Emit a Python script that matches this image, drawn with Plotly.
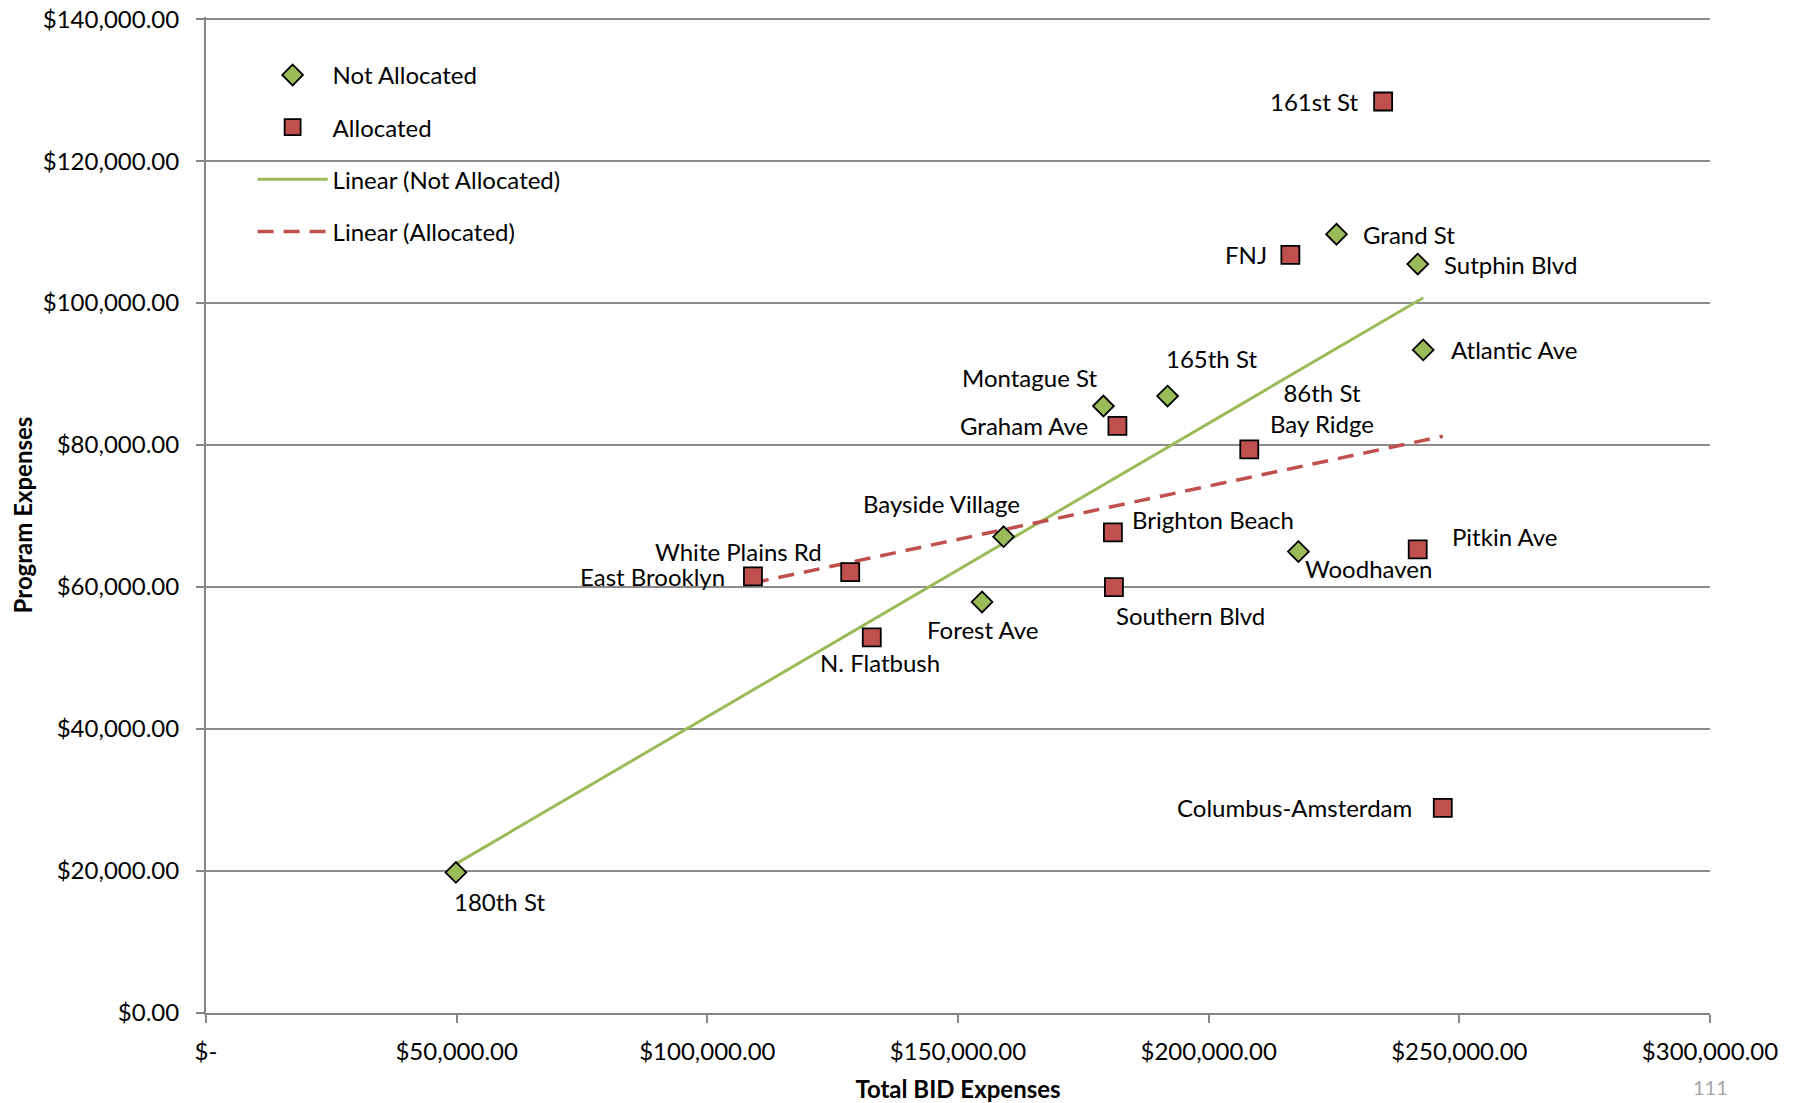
import numpy as np
import plotly.graph_objects as go

# ---- data ----
na_names = ["180th St", "Bayside Village", "Forest Ave", "Montague St", "165th St",
            "Grand St", "Sutphin Blvd", "Atlantic Ave", "Woodhaven"]
na_x = [49850, 159100, 154800, 179000, 191800, 225500, 241700, 242800, 217900]
na_y = [19800, 67100, 57900, 85500, 86900, 109700, 105500, 93400, 65000]

al_names = ["161st St", "FNJ", "Graham Ave", "86th St<br>Bay Ridge", "Brighton Beach",
            "Southern Blvd", "Pitkin Ave", "Columbus-Amsterdam", "East Brooklyn",
            "White Plains Rd", "N. Flatbush"]
al_x = [234800, 216300, 181800, 208100, 180900, 181100, 241700, 246700, 109100, 128500, 132800]
al_y = [128400, 106800, 82700, 79400, 67700, 60000, 65300, 28900, 61500, 62100, 52900]

x_tickvals = [0, 50000, 100000, 150000, 200000, 250000, 300000]
x_ticktext = ["$-", "$50,000.00", "$100,000.00", "$150,000.00", "$200,000.00",
              "$250,000.00", "$300,000.00"]
y_tickvals = [0, 20000, 40000, 60000, 80000, 100000, 120000, 140000]
y_ticktext = ["$0.00", "$20,000.00", "$40,000.00", "$60,000.00", "$80,000.00",
              "$100,000.00", "$120,000.00", "$140,000.00"]

# label offsets in px (dx right, dy up) -- placement only
na_offsets = [(44, -29), (-62, 33), (0, -28), (-74, 29), (44, 38),
              (72, 0), (93, 0), (91, 0), (70, -17)]
al_offsets = [(-69, 0), (-44, 0), (-93, 0), (73, 41), (100, 13),
              (77, -28), (87, 13), (-148, 0), (-100, 0), (-112, 21), (8, -25)]

GREEN = "#9BBB59"
RED = "#C0504D"
FONT = "Lato"
FS = 24

fig = go.Figure()

# linear trendlines computed from the data
def trend(xs, ys):
    m, b = np.polyfit(xs, ys, 1)
    xr = np.array([min(xs), max(xs)], dtype=float)
    return xr, m * xr + b

tx, ty = trend(na_x, na_y)
fig.add_trace(go.Scatter(x=tx, y=ty, mode="lines", name="Linear (Not Allocated)",
                         legendgroup="c", legendrank=3, line=dict(color=GREEN, width=3)))
tx2, ty2 = trend(al_x, al_y)
fig.add_trace(go.Scatter(x=tx2, y=ty2, mode="lines", name="Linear (Allocated)",
                         legendgroup="d", legendrank=4,
                         line=dict(color=RED, width=3.5, dash="16px,10px")))

fig.add_trace(go.Scatter(
    x=na_x, y=na_y, mode="markers", name="Not Allocated", legendgroup="a", legendrank=1,
    marker=dict(symbol="diamond", size=16, color=GREEN, line=dict(color="black", width=1.8)),
))
fig.add_trace(go.Scatter(
    x=al_x, y=al_y, mode="markers", name="Allocated", legendgroup="b", legendrank=2,
    marker=dict(symbol="square", size=18, color=RED, line=dict(color="black", width=1.8)),
))

annotations = []
for names, xs, ys, offs in [(na_names, na_x, na_y, na_offsets), (al_names, al_x, al_y, al_offsets)]:
    for n, x, y, (dx, dy) in zip(names, xs, ys, offs):
        annotations.append(dict(x=x, y=y, xref="x", yref="y", text=n, showarrow=False,
                                xshift=dx, yshift=dy, xanchor="center", yanchor="middle",
                                font=dict(family=FONT, size=FS, color="black")))

annotations.append(dict(x=1.0, y=0, xref="paper", yref="paper", text="111",
                        showarrow=False, xanchor="center", yanchor="bottom", yshift=-88,
                        font=dict(family=FONT, size=20, color="#A6A6A6")))

fig.update_layout(
    width=1797, height=1103,
    margin=dict(l=206, r=87, t=17, b=90),
    paper_bgcolor="white", plot_bgcolor="white",
    font=dict(family=FONT, size=FS, color="black"),
    showlegend=True,
    legend=dict(x=0.031, y=0.964, xanchor="left", yanchor="top",
                traceorder="grouped", tracegroupgap=18, itemwidth=70,
                bgcolor="rgba(0,0,0,0)", font=dict(family=FONT, size=FS, color="black")),
    annotations=annotations,
)

fig.update_xaxes(
    range=[0, 300000], tickvals=x_tickvals, ticktext=x_ticktext, automargin=False,
    showgrid=False, zeroline=False, showline=True, linecolor="#868686", linewidth=2,
    ticks="outside", ticklen=8, tickcolor="#868686", tickwidth=2, ticklabelstandoff=8,
    tickfont=dict(family=FONT, size=FS, color="black"),
    title=dict(text="<b>Total BID Expenses</b>", font=dict(family=FONT, size=FS, color="black"),
               standoff=18),
)
fig.update_yaxes(
    range=[0, 140300], tickvals=y_tickvals, ticktext=y_ticktext, automargin=False,
    showgrid=True, gridcolor="#8C8C8C", gridwidth=2, zeroline=False,
    showline=True, linecolor="#868686", linewidth=2, ticklabeloverflow="allow",
    ticks="outside", ticklen=8, tickcolor="#868686", tickwidth=2, ticklabelstandoff=12,
    tickfont=dict(family=FONT, size=FS, color="black"),
    title=dict(text="<b>Program Expenses</b>", font=dict(family=FONT, size=FS, color="black"),
               standoff=3),
)

fig.write_html("out.html", config={"displayModeBar": False},
               post_script="document.body.style.margin='0';")
